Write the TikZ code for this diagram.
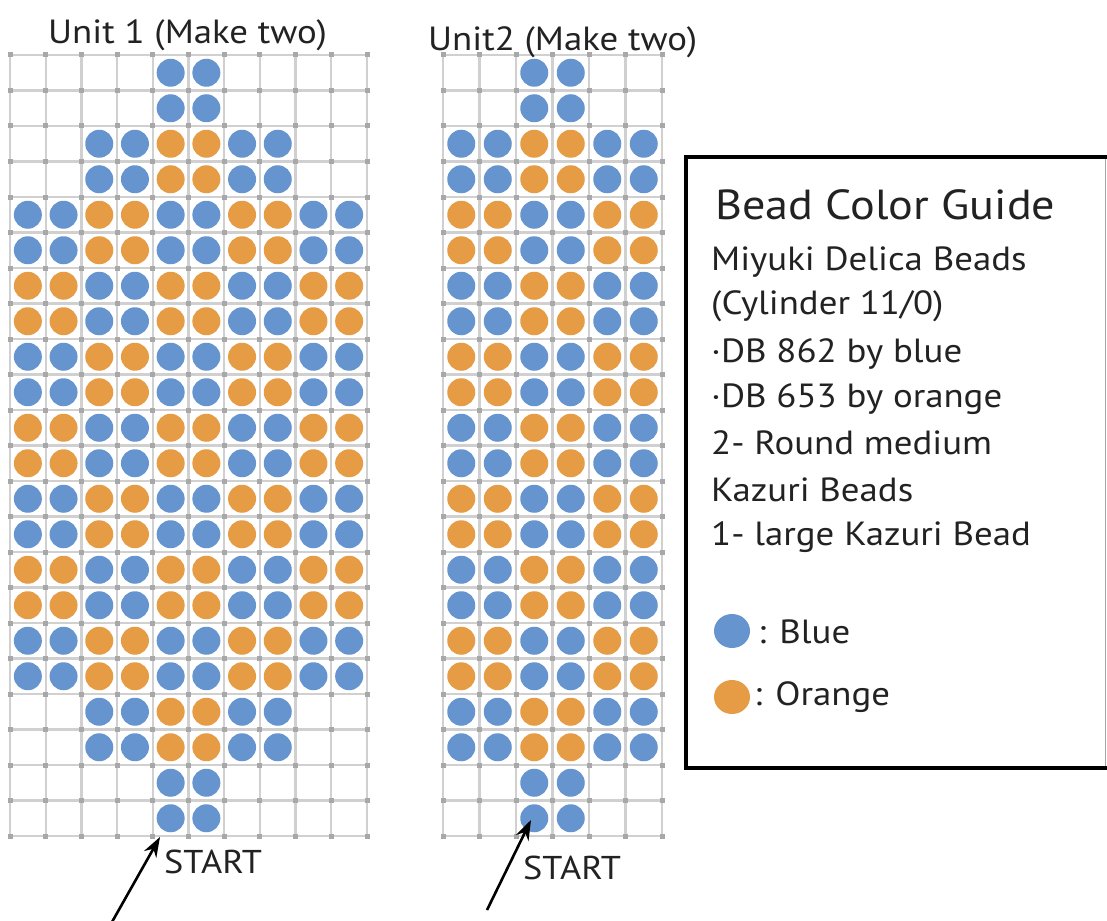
\documentclass[tikz,border=0pt]{standalone}
\usepackage{fontspec}
\setmainfont{PT Sans}[FakeStretch=1.1]
\usetikzlibrary{arrows.meta}
\definecolor{beadblue}{HTML}{6694CF}
\definecolor{beadorange}{HTML}{E69B45}
\definecolor{gridgray}{HTML}{D0D0D0}
\definecolor{dotgray}{HTML}{A8A8A8}
\definecolor{inkgray}{HTML}{222222}
\begin{document}
\begin{tikzpicture}[x=1pt,y=-1pt,
  gridline/.style={draw=gridgray, line width=2.3pt},
  griddot/.style={fill=dotgray},
  bd-b/.style={fill=beadblue},
  bd-o/.style={fill=beadorange},
  bd-e/.style={},
  headtext/.style={inner sep=0pt, anchor=west, text=inkgray, font=\fontsize{33.5}{38}\selectfont},
  titletext/.style={inner sep=0pt, anchor=west, text=inkgray, font=\fontsize{42}{48}\selectfont},
  legtext/.style={inner sep=0pt, anchor=west, text=inkgray, font=\fontsize{33.5}{38}\selectfont},
  starttext/.style={inner sep=0pt, anchor=west, text=inkgray, font=\fontsize{33}{38}\selectfont},
  startarrow/.style={-{Stealth[length=20pt,width=14pt]}, line width=2.6pt, draw=black},
  legendbox/.style={draw=black, line width=4pt},
  legendedge/.style={draw=gray!70, line width=1.3pt}
]
\useasboundingbox (0,0) rectangle (1107,920);
\fill[white] (0,0) rectangle (1107,920);

% ---------- Unit 1 grid ----------
\foreach \i in {0,...,10} \draw[gridline] ({10+35.7*\i},55) -- ({10+35.7*\i},836);
\foreach \j in {0,...,22} \draw[gridline] (10,{55+35.5*\j}) -- (367,{55+35.5*\j});
\foreach \i in {0,...,10} \foreach \j in {0,...,22}
  \fill[griddot] ({10+35.7*\i-2.5},{55+35.5*\j-2.5}) rectangle +(5,5);
\foreach \row [count=\r from 0] in {
  {e,e,e,e,b,b,e,e,e,e},{e,e,e,e,b,b,e,e,e,e},
  {e,e,b,b,o,o,b,b,e,e},{e,e,b,b,o,o,b,b,e,e},
  {b,b,o,o,b,b,o,o,b,b},{b,b,o,o,b,b,o,o,b,b},
  {o,o,b,b,o,o,b,b,o,o},{o,o,b,b,o,o,b,b,o,o},
  {b,b,o,o,b,b,o,o,b,b},{b,b,o,o,b,b,o,o,b,b},
  {o,o,b,b,o,o,b,b,o,o},{o,o,b,b,o,o,b,b,o,o},
  {b,b,o,o,b,b,o,o,b,b},{b,b,o,o,b,b,o,o,b,b},
  {o,o,b,b,o,o,b,b,o,o},{o,o,b,b,o,o,b,b,o,o},
  {b,b,o,o,b,b,o,o,b,b},{b,b,o,o,b,b,o,o,b,b},
  {e,e,b,b,o,o,b,b,e,e},{e,e,b,b,o,o,b,b,e,e},
  {e,e,e,e,b,b,e,e,e,e},{e,e,e,e,b,b,e,e,e,e}} {
  \foreach \c [count=\k from 0] in \row {
    \path[bd-\c] ({10+35.7*(\k+0.5)},{55+35.5*(\r+0.5)}) circle[radius=14pt];
  }
}

% ---------- Unit 2 grid ----------
\foreach \i in {0,...,6} \draw[gridline] ({443+36.5*\i},55) -- ({443+36.5*\i},836);
\foreach \j in {0,...,22} \draw[gridline] (443,{55+35.5*\j}) -- (662,{55+35.5*\j});
\foreach \i in {0,...,6} \foreach \j in {0,...,22}
  \fill[griddot] ({443+36.5*\i-2.5},{55+35.5*\j-2.5}) rectangle +(5,5);
\foreach \row [count=\r from 0] in {
  {e,e,b,b,e,e},{e,e,b,b,e,e},
  {b,b,o,o,b,b},{b,b,o,o,b,b},
  {o,o,b,b,o,o},{o,o,b,b,o,o},
  {b,b,o,o,b,b},{b,b,o,o,b,b},
  {o,o,b,b,o,o},{o,o,b,b,o,o},
  {b,b,o,o,b,b},{b,b,o,o,b,b},
  {o,o,b,b,o,o},{o,o,b,b,o,o},
  {b,b,o,o,b,b},{b,b,o,o,b,b},
  {o,o,b,b,o,o},{o,o,b,b,o,o},
  {b,b,o,o,b,b},{b,b,o,o,b,b},
  {e,e,b,b,e,e},{e,e,b,b,e,e}} {
  \foreach \c [count=\k from 0] in \row {
    \path[bd-\c] ({443+36.5*(\k+0.5)},{55+35.5*(\r+0.5)}) circle[radius=14pt];
  }
}

% ---------- Headings ----------
\node[headtext] (head1) at (48,35) {Unit 1 (Make two)};
\node[headtext] (head2) at (428,42) {Unit2 (Make two)};

% ---------- START labels and arrows ----------
\node[starttext] (start1) at (164,862) {START};
\coordinate (tip1) at (160,837);
\coordinate (tail1) at (112,922);
\draw[startarrow] (tail1) -- (tip1);

\node[starttext] (start2) at (523,868) {START};
\coordinate (tip2) at (531,820);
\coordinate (tail2) at (487,910);
\draw[startarrow] (tail2) -- (tip2);

% ---------- Legend ----------
\draw[legendedge] (1105.5,157) -- (1105.5,768);
\draw[legendbox] (1107,157) -- (686,157) -- (686,768) -- (1107,768);
\node[titletext] (legtitle) at (715,205) {Bead Color Guide};
\node[legtext] (leg1) at (711,262) {Miyuki Delica Beads};
\node[legtext] (leg2) at (711,306) {(Cylinder 11/0)};
\node[legtext] (leg3) at (711,354) {·DB 862 by blue};
\node[legtext] (leg4) at (711,399) {·DB 653 by orange};
\node[legtext] (leg5) at (711,443) {2- Round medium};
\node[legtext] (leg6) at (711,490) {Kazuri Beads};
\node[legtext] (leg7) at (711,537) {1- large Kazuri Bead};
\path[fill=beadblue] (732,631) ellipse[x radius=18pt, y radius=17pt];
\node[legtext] (legblue) at (758,632) {: Blue};
\path[fill=beadorange] (732,697) ellipse[x radius=18pt, y radius=17pt];
\node[legtext] (legorange) at (754,697) {: Orange};
\end{tikzpicture}
\end{document}
